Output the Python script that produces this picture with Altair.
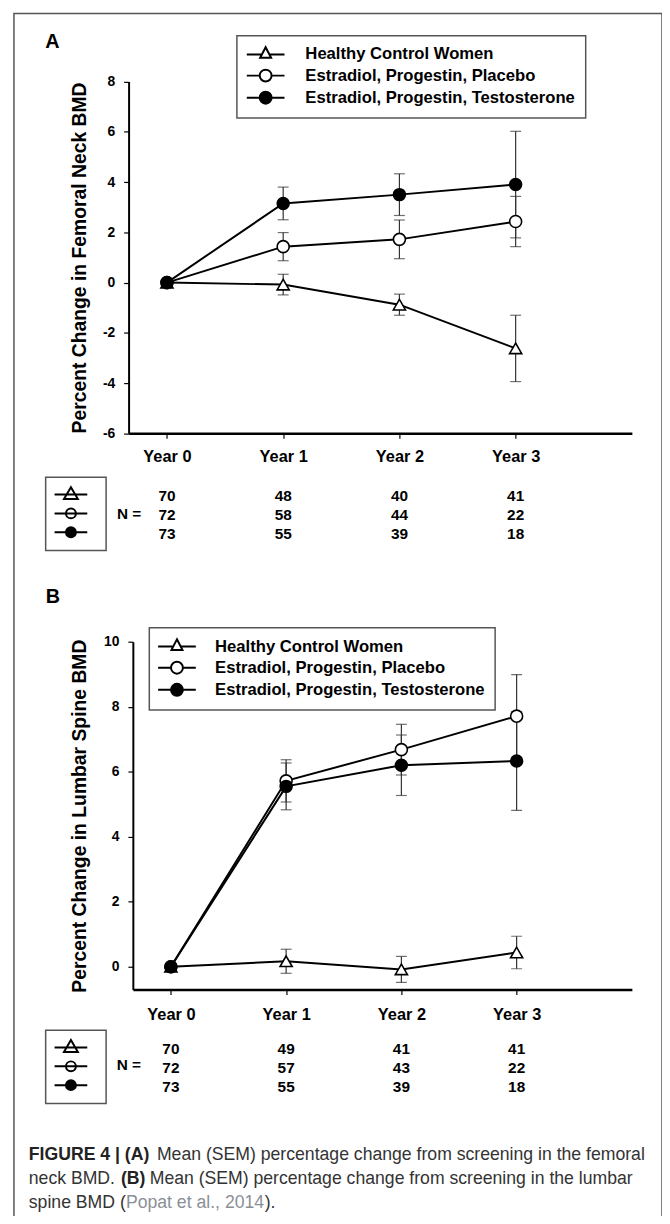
import altair as alt
import pandas as pd

# ---------------- data ----------------
years = [0, 1, 2, 3]
year_labels = ["Year 0", "Year 1", "Year 2", "Year 3"]
series = [
    "Healthy Control Women",
    "Estradiol, Progestin, Placebo",
    "Estradiol, Progestin, Testosterone",
]

# Panel A: percent change in femoral neck BMD (mean, SEM)
neck_healthy = [0.0, -0.08, -0.88, -2.62]
neck_healthy_sem = [0.0, 0.41, 0.42, 1.32]
neck_placebo = [0.0, 1.43, 1.72, 2.43]
neck_placebo_sem = [0.0, 0.56, 0.77, 1.00]
neck_testo = [0.0, 3.15, 3.50, 3.90]
neck_testo_sem = [0.0, 0.65, 0.83, 2.12]
neck_n_healthy = [70, 48, 40, 41]
neck_n_placebo = [72, 58, 44, 22]
neck_n_testo = [73, 55, 39, 18]
neck_ticks = [-6, -4, -2, 0, 2, 4, 6, 8]

# Panel B: percent change in lumbar spine BMD (mean, SEM)
spine_healthy = [0.0, 0.17, -0.08, 0.44]
spine_healthy_sem = [0.0, 0.37, 0.40, 0.50]
spine_placebo = [0.0, 5.72, 6.68, 7.71]
spine_placebo_sem = [0.0, 0.65, 0.78, 1.28]
spine_testo = [0.0, 5.55, 6.20, 6.33]
spine_testo_sem = [0.0, 0.72, 0.93, 1.52]
spine_n_healthy = [70, 49, 41, 41]
spine_n_placebo = [72, 57, 43, 22]
spine_n_testo = [73, 55, 39, 18]
spine_ticks = [0, 2, 4, 6, 8, 10]

title_a = "Percent Change in Femoral Neck BMD"
title_b = "Percent Change in Lumbar Spine BMD"
caption_1 = ["FIGURE 4 | (A)", "Mean (SEM) percentage change from screening in the femoral"]
caption_2 = ["neck BMD.", "(B)", "Mean (SEM) percentage change from screening in the lumbar"]
caption_3 = ["spine BMD (", "Popat et al., 2014", ")."]

# ---------------- styling ----------------
FONT = "Liberation Sans"
BORDER = "#555555"
W, H = 654, 1208

LEG_TRI = "M-3.17 0H-0.63M0.63 0H3.17M0 -1.22L0.92 0.56L-0.92 0.56Z"
LEG_CIR = "M-3.17 0H-1M1 0H3.17M1 0A1 1 0 1 1 -1 0A1 1 0 1 1 1 0Z"
N_TRI = "M-3.3 0H3.3M0 -1.5L1.4 0.9L-1.4 0.9Z"
N_CIR = "M-3.3 0H3.3M1 0A1 1 0 1 1 -1 0A1 1 0 1 1 1 0Z"


def make_frame(means, sems, counts):
    rows = []
    for name, m_list, s_list, n_list in zip(series, means, sems, counts):
        for yr, m, s, n in zip(years, m_list, s_list, n_list):
            rows.append({"series": name, "year": yr, "mean": m, "sem": s,
                         "lo": m - s, "hi": m + s, "n": n})
    return pd.DataFrame(rows)


neck_df = make_frame([neck_healthy, neck_placebo, neck_testo],
                     [neck_healthy_sem, neck_placebo_sem, neck_testo_sem],
                     [neck_n_healthy, neck_n_placebo, neck_n_testo])
spine_df = make_frame([spine_healthy, spine_placebo, spine_testo],
                      [spine_healthy_sem, spine_placebo_sem, spine_testo_sem],
                      [spine_n_healthy, spine_n_placebo, spine_n_testo])

year_expr = "[" + ",".join("'%s'" % t for t in year_labels) + "][datum.value]"


def legend_layer(paths, legend):
    df = pd.DataFrame({"series": series})
    return alt.Chart(df).mark_point(filled=True, opacity=1, strokeWidth=2).encode(
        x=alt.value(-80), y=alt.value(-80),
        shape=alt.Shape("series:N", scale=alt.Scale(domain=series, range=paths), legend=legend),
        fill=alt.Fill("series:N", scale=alt.Scale(domain=series, range=["white", "white", "black"]),
                      legend=legend),
        stroke=alt.Stroke("series:N", scale=alt.Scale(domain=series, range=["black", "black", "black"]),
                          legend=legend),
    )


def main_legend(lx, ly, sym_off, lab_off):
    return alt.Legend(orient="none", legendX=lx, legendY=ly, title=None, padding=10.5,
                      strokeColor=BORDER, fillColor="white", symbolSize=144,
                      symbolStrokeWidth=2, symbolOpacity=1,
                      symbolOffset=sym_off, labelOffset=lab_off, labelFont=FONT,
                      labelFontWeight="bold", labelFontSize=16.8, labelColor="black",
                      labelLimit=600, rowPadding=1.3)


def n_legend(lx, ly):
    return alt.Legend(orient="none", legendX=lx, legendY=ly, title=None, padding=9.5,
                      strokeColor=BORDER, fillColor="white", symbolSize=100,
                      symbolStrokeWidth=2, symbolOpacity=1,
                      symbolOffset=8, labelOffset=18, labelFont=FONT,
                      labelFontSize=16, labelExpr="'\u00a0\u00a0'", labelLimit=100,
                      rowPadding=1)


def panel(df, x_range, y_domain, y_range, ticks, ytitle, title_x, x_label_pad,
          n_rows, leg_main, leg_n):
    xs = alt.Scale(domain=[-0.33, 4.0], range=x_range, nice=False, zero=False)
    ys = alt.Scale(domain=y_domain, range=y_range, nice=False, zero=False)
    x_plain = alt.X("year:Q", scale=xs, axis=None)
    err_df = df[df["sem"] > 0]

    errs = alt.Chart(err_df).mark_rule(color="#333333", strokeWidth=1.2).encode(
        x=x_plain, y=alt.Y("lo:Q", scale=ys, axis=None), y2="hi:Q")
    cap_lo = alt.Chart(err_df).mark_tick(orient="horizontal", size=11, thickness=1.2,
                                         color="#333333").encode(
        x=x_plain, y=alt.Y("lo:Q", scale=ys, axis=None))
    cap_hi = alt.Chart(err_df).mark_tick(orient="horizontal", size=11, thickness=1.2,
                                         color="#333333").encode(
        x=x_plain, y=alt.Y("hi:Q", scale=ys, axis=None))
    lines = alt.Chart(df).mark_line(color="black", strokeWidth=2).encode(
        x=x_plain, y=alt.Y("mean:Q", scale=ys, axis=None), detail="series:N", order="year:Q")

    x_axis = alt.Axis(orient="bottom", offset=y_range[0] - H, values=years,
                      labelExpr=year_expr, labelFont=FONT, labelFontWeight="bold",
                      labelFontSize=16.5, labelColor="black", labelPadding=x_label_pad,
                      labelFlush=False, labelOverlap=False,
                      domainColor="black", domainWidth=2.5, tickColor="black",
                      tickSize=5, tickWidth=1.2, grid=False, title=None)
    y_axis = alt.Axis(orient="left", offset=-x_range[0], values=ticks,
                      labelExpr="'' + datum.value", labelFont=FONT, labelFontWeight="bold",
                      labelFontSize=14, labelColor="black", labelPadding=9,
                      labelOverlap=False,
                      domainColor="black", domainWidth=2, tickColor="black",
                      tickSize=5, tickWidth=1.2, grid=False,
                      title=ytitle, titleFont=FONT, titleFontWeight="bold",
                      titleFontSize=19.5, titleColor="black", titleAngle=270,
                      titleBaseline="alphabetic", titleAlign="center",
                      titleX=title_x, titleY=(y_range[0] + y_range[1]) / 2)

    pts = alt.Chart(df).mark_point(stroke="black", strokeWidth=1.6, opacity=1).encode(
        x=alt.X("year:Q", scale=xs, axis=x_axis),
        y=alt.Y("mean:Q", scale=ys, axis=y_axis),
        shape=alt.Shape("series:N", scale=alt.Scale(domain=series,
                        range=["triangle-up", "circle", "circle"]), legend=None),
        fill=alt.Fill("series:N", scale=alt.Scale(domain=series,
                      range=["white", "white", "black"]), legend=None),
        size=alt.Size("series:N", scale=alt.Scale(domain=series, range=[150, 144, 156]),
                      legend=None),
    )

    ntext = alt.Chart(df).mark_text(font=FONT, fontWeight="bold", fontSize=15.5,
                                    color="black", align="center", baseline="middle").encode(
        x=x_plain,
        y=alt.Y("series:N", scale=alt.Scale(type="point", domain=series, range=n_rows,
                                             padding=0), axis=None),
        text="n:Q")

    return [errs, cap_lo, cap_hi, lines, pts, ntext,
            legend_layer([LEG_TRI, LEG_CIR, LEG_CIR], leg_main),
            legend_layer([N_TRI, N_CIR, N_CIR], leg_n)]


one = pd.DataFrame({"k": [0]})


def label(text, x, y, size, weight="bold", color="black"):
    return alt.Chart(one).mark_text(text=text, font=FONT, fontSize=size, fontWeight=weight,
                                    color=color, align="left", baseline="alphabetic").encode(
        x=alt.value(x), y=alt.value(y))


border = alt.Chart(one).mark_rect(fillOpacity=0, stroke=BORDER, strokeWidth=1.5).encode(
    x=alt.value(0), x2=alt.value(W), y=alt.value(0), y2=alt.value(H + 40))

layers_a = panel(neck_df, [115.7, 623.6], [-6, 8], [423.7, 68.7], neck_ticks, title_a,
                 -43.7, 10, [487, 525],
                 main_legend(225, 22.5, 10.1, 31.7), n_legend(32, 468))
layers_b = panel(spine_df, [120, 623.6], [-0.7, 10], [985, 634], spine_ticks, title_b,
                 -48, 12, [1045, 1083],
                 main_legend(136.6, 620, 9.0, 30.1), n_legend(32, 1026))

CAP = 17.8
caption = [
    label(caption_1[0], 15, 1157, CAP, "bold", "#222222"),
    label(caption_1[1], 144.3, 1157, CAP, "normal", "#333333"),
    label(caption_2[0], 15, 1181, CAP, "normal", "#333333"),
    label(caption_2[1], 108, 1181, CAP, "bold", "#222222"),
    label(caption_2[2], 137, 1181, CAP, "normal", "#333333"),
    label(caption_3[0], 15, 1205, CAP, "normal", "#333333"),
    label(caption_3[1], 113, 1205, CAP, "normal", "#8a8f96"),
    label(caption_3[2], 253, 1205, CAP, "normal", "#333333"),
]

texts = [
    label("A", 31.7, 35.3, 20),
    label("B", 32.2, 595.3, 20),
    label("N =", 104, 510, 15.5),
    label("N =", 103.7, 1066, 15.5),
]

chart = alt.layer(border, *layers_a, *layers_b, *texts, *caption).resolve_scale(
    x="independent", y="independent", shape="independent", fill="independent",
    stroke="independent", size="independent",
).properties(
    width=W, height=H,
    autosize=alt.AutoSizeParams(type="none"),
    padding={"left": 6, "top": 0, "right": 0, "bottom": 0},
).configure_view(strokeWidth=0).configure_legend(strokeWidth=1.5)

chart.save("out.html", embed_options={"renderer": "svg", "actions": False})
